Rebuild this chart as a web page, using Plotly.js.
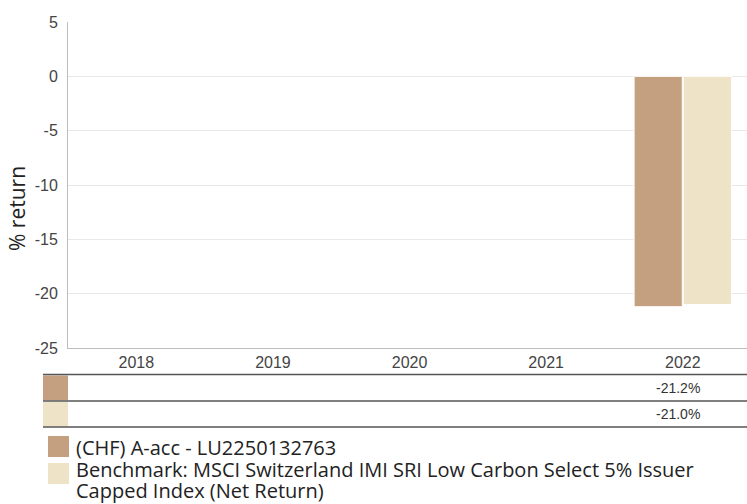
<!DOCTYPE html>
<html>
<head>
<meta charset="utf-8">
<script src="https://cdn.plot.ly/plotly-3.0.1.min.js"></script>
<style>
  html, body { margin: 0; padding: 0; background: #fff; }
  #chart { width: 747px; height: 504px; }
</style>
</head>
<body>
<div id="chart"></div>
<script>
// ---- data ----
const years = ["2018", "2019", "2020", "2021", "2022"];
const fundName = "(CHF) A-acc - LU2250132763";
const benchNameLines = ["Benchmark: MSCI Switzerland IMI SRI Low Carbon Select 5% Issuer", "Capped Index (Net Return)"];
const fundValues = [null, null, null, null, -21.2];
const benchValues = [null, null, null, null, -21.0];
const yTicks = [5, 0, -5, -10, -15, -20, -25];

// ---- style ----
const fundColor = "#C49F80";
const benchColor = "#EFE3C7";
const W = 747, H = 504;
const mL = 68, mR = 0, mT = 22, mB = 156;
const plotW = W - mL - mR, plotH = H - mT - mB;
const px = v => (v - mL) / plotW;          // pixel x -> paper x
const py = v => (H - mB - v) / plotH;      // pixel y -> paper y

const traces = [
  { type: "bar", name: fundName, x: years, y: fundValues,
    marker: { color: fundColor, line: { color: "#ffffff", width: 1 } },
    hoverinfo: "none" },
  { type: "bar", name: benchNameLines.join(" "), x: years, y: benchValues,
    marker: { color: benchColor, line: { color: "#ffffff", width: 1 } },
    hoverinfo: "none" }
];

const shapes = [];
const annotations = [];
const tableLineColor = "#555555";
// table lines
[374.5, 401, 427].forEach(yy => {
  shapes.push({ type: "line", xref: "paper", yref: "paper",
    x0: px(43), x1: px(747), y0: py(yy), y1: py(yy),
    line: { color: tableLineColor, width: 1.5 } });
});
// table swatches + values
const rows = [
  { color: fundColor, vals: fundValues, top: 375.5, bot: 400.3 },
  { color: benchColor, vals: benchValues, top: 402, bot: 426.3 }
];
rows.forEach(r => {
  shapes.push({ type: "rect", xref: "paper", yref: "paper", layer: "below",
    x0: px(43), x1: px(68), y0: py(r.bot), y1: py(r.top),
    fillcolor: r.color, line: { width: 0 } });
  r.vals.forEach((v, i) => {
    if (v === null) return;
    annotations.push({ xref: "x", yref: "paper", x: i, y: py((r.top + r.bot) / 2),
      text: v.toFixed(1) + "%", showarrow: false, xanchor: "center", yanchor: "middle",
      xshift: -5,
      font: { family: "Liberation Sans, Arial, sans-serif", size: 14, color: "#333333" } });
  });
});
// legend
const legendFont = { family: "Open Sans, sans-serif", size: 20, color: "#222222" };
const legendItems = [
  { color: fundColor, lines: [fundName], top: 436, bot: 457, ty: 447 },
  { color: benchColor, lines: benchNameLines, top: 463, bot: 484, ty: 469 }
];
legendItems.forEach(it => {
  shapes.push({ type: "rect", xref: "paper", yref: "paper",
    x0: px(48), x1: px(69), y0: py(it.bot), y1: py(it.top),
    fillcolor: it.color, line: { width: 0 } });
  it.lines.forEach((ln, k) => {
    annotations.push({ xref: "paper", yref: "paper", x: px(74), y: py(it.ty + 22 * k),
      text: ln, showarrow: false, xanchor: "left", yanchor: "middle", align: "left",
      font: legendFont });
  });
});
// y-axis title
annotations.push({ xref: "paper", yref: "paper", x: px(17), y: py(209),
  text: "% return", textangle: -90, showarrow: false, xanchor: "center", yanchor: "middle",
  font: { family: "Open Sans, sans-serif", size: 21, color: "#222222" } });

const layout = {
  width: W, height: H,
  margin: { l: mL, r: mR, t: mT, b: mB, pad: 0 },
  paper_bgcolor: "#ffffff", plot_bgcolor: "#ffffff",
  showlegend: false,
  barmode: "group", bargap: 0.28, bargroupgap: 0.02,
  xaxis: {
    type: "category", categoryorder: "array", categoryarray: years,
    range: [-0.5, 4.47],
    showline: true, linecolor: "#bdbdbd", linewidth: 1,
    showgrid: false, ticks: "", zeroline: false,
    tickfont: { family: "Liberation Sans, Arial, sans-serif", size: 16, color: "#444444" },
    fixedrange: true
  },
  yaxis: {
    range: [-25, 5], tickvals: yTicks, ticktext: yTicks.map(String),
    showline: true, linecolor: "#bdbdbd", linewidth: 1,
    showgrid: true, gridcolor: "#e8e8e8", gridwidth: 1,
    zeroline: false, ticks: "", ticklabelstandoff: 6,
    tickfont: { family: "Liberation Sans, Arial, sans-serif", size: 16, color: "#444444" },
    fixedrange: true
  },
  shapes: shapes,
  annotations: annotations
};

Plotly.newPlot("chart", traces, layout, { displayModeBar: false, staticPlot: true });
</script>
</body>
</html>
